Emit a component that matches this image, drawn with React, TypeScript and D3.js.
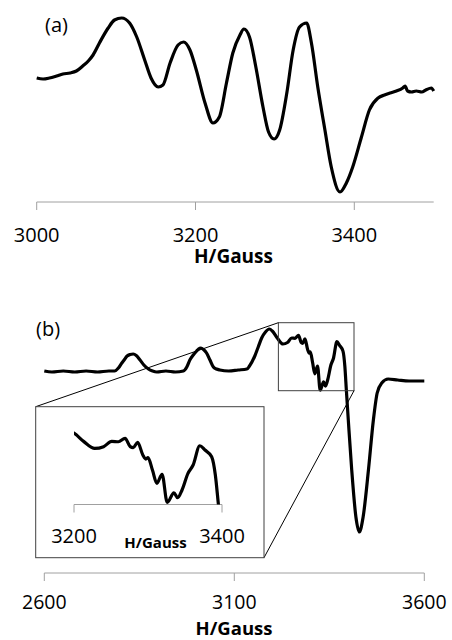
// EPR spectra: (a) single spectrum, (b) spectrum with zoomed inset of 3200–3400 G
import * as d3 from 'd3';

// ── Data ─────────────────────────────────────────────
// panel (a): field (G) and signal (arb. units)
const A_FIELD = [
  3000, 3008, 3016, 3025, 3033, 3042, 3050, 3058, 3065, 3071, 3079, 3090, 3098, 3107,
  3117, 3126, 3136, 3144, 3153, 3159, 3168, 3178, 3185, 3193, 3201, 3212, 3222, 3230,
  3239, 3247, 3256, 3261, 3268, 3276, 3285, 3292, 3299, 3306, 3315, 3323, 3331, 3340,
  3346, 3354, 3363, 3371, 3382, 3390, 3398, 3409, 3419, 3430, 3438, 3445, 3453, 3461,
  3464, 3467, 3472, 3478, 3485, 3490, 3497, 3500,
];
const A_SIGNAL = [
  -1, -2, -1, 1, 3, 4, 6, 11, 16, 22, 34, 49, 57, 59,
  54, 40, 17, -1, -10, -8, 14, 32, 35, 27, 7, -26, -46, -40,
  -6, 24, 42, 48, 40, 10, -30, -55, -62, -53, -16, 27, 50, 54,
  34, -10, -53, -90, -115, -106, -90, -60, -33, -21, -18, -16, -14, -11,
  -9, -14, -15, -14, -15, -13, -11, -14,
];
const A_TICKS = [3000, 3200, 3400];

// panel (b)
const B_FIELD = [
  2600, 2620, 2650, 2680, 2710, 2740, 2770, 2785, 2795, 2804, 2810, 2818, 2826, 2834,
  2842, 2852, 2862, 2874, 2885, 2896, 2920, 2945, 2966, 2975, 2983, 2992, 3001, 3006,
  3012, 3019, 3027, 3036, 3045, 3053, 3062, 3085, 3110, 3133, 3140, 3154, 3163, 3172,
  3182, 3192, 3200, 3213, 3228, 3240, 3251, 3260, 3269, 3276, 3280, 3286, 3293, 3297,
  3300, 3306, 3312, 3319, 3326, 3335, 3340, 3346, 3354, 3361, 3370, 3377, 3386, 3391,
  3395, 3400, 3409, 3420, 3429, 3439, 3453, 3466, 3476, 3488, 3505, 3530, 3560, 3600,
];
const B_SIGNAL = [
  0, -1, 0, -1, 0, -1, 0, 0, 3, 8, 11, 15, 16.5, 17,
  15.5, 11, 6, 2, 0, -1, 0, -1, 0, 4, 11, 16, 20, 22,
  23, 21.5, 18, 11, 4, 2, 1, 0, 1, 2, 5, 15, 24, 33,
  39, 42, 40, 33, 27, 28.5, 33, 32.7, 35.6, 28.5, 27.6, 32.2, 21.4, 17.9,
  19.1, 8.5, -2.8, 4.9, -19.1, -10.9, -15.1, -8.5, 5.7, 12.8, 29.3, 25.6, 19.9, 4.3,
  -19.9, -49, -99, -146, -161, -146, -99, -49, -22, -12, -8, -9, -10, -10,
];
const B_TICKS = [2600, 3100, 3600];
const ZOOM_FIELD = [3216, 3415];
const ZOOM_SIGNAL = [-19.7, 48.3];
const INSET_TICKS = [3200, 3400];

// ── Layout ───────────────────────────────────────────
const W = 452, H = 640;
const FONT = '"Open Sans", Lato, sans-serif';
const AXIS = '#a0a0a0';
const INSET_BOX = { x0: 35.7, y0: 406.7, x1: 264, y1: 557.7 };

const xA = d3.scaleLinear().domain([3000, 3500]).range([36.7, 433.7]);
const yA = d3.scaleLinear().domain([-125, 60]).range([202, 17]);
const xB = d3.scaleLinear().domain([2600, 3600]).range([44.3, 424.3]);
const yB = d3.scaleLinear().domain([-170, 50]).range([541, 321]);
const xI = d3.scaleLinear().domain([3200, 3400]).range([74, 222]);
const yI = d3.scaleLinear().domain([-21, 50]).range([504.6, 421.5]);

function linePath(fx, sy, xs, ys) {
  return d3.line<number>()
    .x((_, i) => xs(fx[i]))
    .y(d => ys(d))
    .curve(d3.curveMonotoneX)(sy) ?? '';
}

function Axis({ x, y, ticks, domain, size, labelY, title, titleY, titleX, titleSize }) {
  return (
    <g>
      <line x1={x(domain[0])} x2={x(domain[1])} y1={y} y2={y} stroke={AXIS} strokeWidth={1} />
      {ticks.map(t => (
        <g key={t}>
          <line x1={x(t)} x2={x(t)} y1={y} y2={y + 8} stroke={AXIS} strokeWidth={1} />
          <text x={x(t)} y={labelY} textAnchor="middle" fontSize={size} fontFamily={FONT} fill="#000">{t}</text>
        </g>
      ))}
      <text x={titleX} y={titleY} textAnchor="middle" fontSize={titleSize} fontWeight={700} fontFamily={FONT} fill="#000">{title}</text>
    </g>
  );
}

export default function App() {
  const pathA = linePath(A_FIELD, A_SIGNAL, xA, yA);
  const pathB = linePath(B_FIELD, B_SIGNAL, xB, yB);
  const pathI = linePath(B_FIELD, B_SIGNAL, xI, yI);

  const bx0 = xB(ZOOM_FIELD[0]), bx1 = xB(ZOOM_FIELD[1]);
  const by0 = yB(ZOOM_SIGNAL[1]), by1 = yB(ZOOM_SIGNAL[0]);

  return (
    <svg width={W} height={H} style={{ position: 'absolute', left: 0, top: 0, background: '#fff' }}>
      <defs>
        <clipPath id="inset-clip">
          <rect x={xI(3200)} y={INSET_BOX.y0} width={xI(3400) - xI(3200)} height={yI(-21) - INSET_BOX.y0} />
        </clipPath>
      </defs>

      {/* (a) */}
      <text x={45} y={32} fontSize={20} fontFamily={FONT} fill="#000">(a)</text>
      <Axis x={xA} y={202} ticks={A_TICKS} domain={[3000, 3500]} size={20} labelY={242}
        title="H/Gauss" titleX={233.5} titleY={263} titleSize={19} />
      <path d={pathA} fill="none" stroke="#000" strokeWidth={3.2} strokeLinejoin="round" />

      {/* (b) */}
      <text x={36} y={336} fontSize={20} fontFamily={FONT} fill="#000">(b)</text>
      <Axis x={xB} y={573} ticks={B_TICKS} domain={[2600, 3600]} size={19.5} labelY={609}
        title="H/Gauss" titleX={234} titleY={635} titleSize={18.5} />
      <path d={pathB} fill="none" stroke="#000" strokeWidth={3.2} strokeLinejoin="round" />

      {/* zoom box + connectors */}
      <rect x={bx0} y={by0} width={bx1 - bx0} height={by1 - by0} fill="none" stroke="#404040" strokeWidth={1} />
      <line x1={bx0} y1={by0} x2={INSET_BOX.x0} y2={INSET_BOX.y0} stroke="#000" strokeWidth={1} />
      <line x1={bx1} y1={by1} x2={INSET_BOX.x1} y2={INSET_BOX.y1} stroke="#000" strokeWidth={1} />

      {/* inset */}
      <rect x={INSET_BOX.x0} y={INSET_BOX.y0} width={INSET_BOX.x1 - INSET_BOX.x0} height={INSET_BOX.y1 - INSET_BOX.y0}
        fill="#fff" stroke="#404040" strokeWidth={1} />
      <Axis x={xI} y={504.5} ticks={INSET_TICKS} domain={[3200, 3400]} size={20} labelY={543}
        title="H/Gauss" titleX={155.5} titleY={548} titleSize={15} />
      <path d={pathI} fill="none" stroke="#000" strokeWidth={3.2} strokeLinejoin="round" clipPath="url(#inset-clip)" />
    </svg>
  );
}
